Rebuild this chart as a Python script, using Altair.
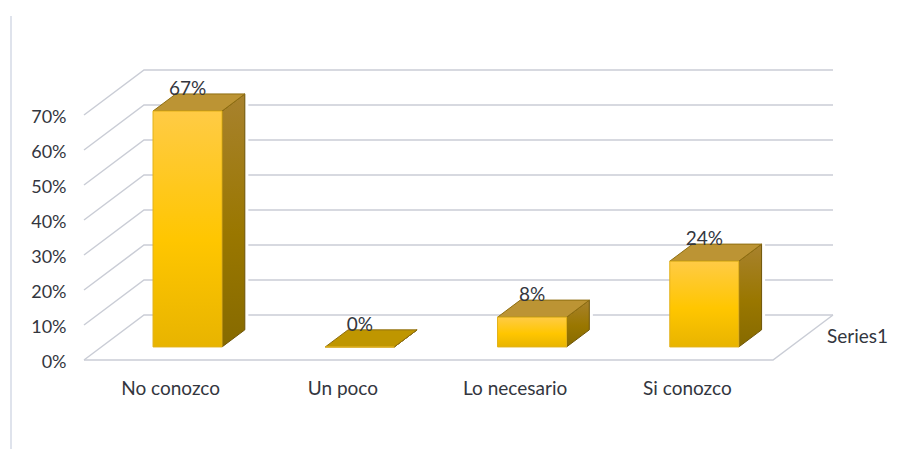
import json
import altair as alt
import pandas as pd

categories = ["No conozco", "Un poco", "Lo necesario", "Si conozco"]
bar_heights = [67.4, 0.0, 8.5, 24.5]
bar_labels = ["67%", "0%", "8%", "24%"]
ticks = [0, 10, 20, 30, 40, 50, 60, 70]
series_name = "Series1"

# oblique projection of the 3D box, in data units
DX = 0.3483      # category units for the full floor depth
DY = 12.857      # percent units for the full floor depth
D0, D1 = 0.29, 0.67
BW = 0.4006
X_DOM = [-0.4412, 4.7837]
Y_DOM = [-25.429, 100.571]
W, H = 900, 441
FONT = "Lato"
TXT = "#33363e"
GRID = "#cacdd6"

x_names = json.dumps(categories)
x_axis = alt.Axis(
    values=[i + 0.5 for i in range(len(categories))],
    labelExpr=f"{x_names}[floor(datum.value)]",
    domain=False, ticks=False, grid=False, labelFont=FONT, labelFontSize=19,
    labelColor=TXT, labelPadding=0, offset=-61, labelBaseline="middle",
    labelFlush=False, labelOverlap=False, title=None,
)
y_axis = alt.Axis(
    values=ticks, labelExpr="datum.value + '%'",
    domain=False, ticks=False, grid=False, labelFont=FONT, labelFontSize=18,
    labelColor=TXT, labelPadding=0, offset=-58, labelOffset=2.5,
    labelFlush=False, labelOverlap=False, title=None,
)


def X(f):
    return alt.X(f, type="quantitative", scale=alt.Scale(domain=X_DOM, nice=False, zero=False), axis=x_axis)


def Y(f):
    return alt.Y(f, type="quantitative", scale=alt.Scale(domain=Y_DOM, nice=False, zero=False), axis=y_axis)


def grad(stops):
    return alt.Gradient(
        gradient="linear", x1=0, y1=0, x2=0, y2=1,
        stops=[alt.GradientStop(offset=o, color=c) for o, c in stops],
    )


# walls and floor
grid_rows = []
for t in ticks:
    for n, (x, y) in enumerate([(0, t), (DX, t + DY), (4 + DX, t + DY)]):
        grid_rows.append({"line": f"g{t}", "o": n, "x": x, "y": y})
for n, (x, y) in enumerate([(0, 0), (4, 0), (4 + DX, DY)]):
    grid_rows.append({"line": "floor", "o": n, "x": x, "y": y})
grid = pd.DataFrame(grid_rows)

front, side, top, halo, labels = [], [], [], [], []
for i, (c, v, lab) in enumerate(zip(categories, bar_heights, bar_labels)):
    cx = i + 0.5 + D0 * DX
    l, r = cx - BW / 2, cx + BW / 2
    y0f, y0b = D0 * DY, D1 * DY
    sx = (D1 - D0) * DX
    front.append({"c": c, "x": l, "x2": r, "y": y0f, "y2": y0f + v})
    side += [
        {"c": c, "x": r, "y": y0f, "y2": y0f + v},
        {"c": c, "x": r + sx, "y": y0b, "y2": y0b + v},
    ]
    topfill = "#bc9434" if v > 0 else "#bf9600"
    top += [
        {"c": c, "y": y0f + v, "x": l, "x2": r, "fill": topfill},
        {"c": c, "y": y0b + v, "x": l + sx, "x2": r + sx, "fill": topfill},
    ]
    halo.append({"c": c, "x": r + sx + 0.006, "y": y0b, "y2": y0b + v})
    labels.append({"c": c, "x": cx, "y": y0f + v, "t": lab})

front, side, top, halo, labels = map(pd.DataFrame, (front, side, top, halo, labels))

walls = alt.Chart(grid).mark_line(color=GRID, strokeWidth=1.5).encode(
    x=X("x"), y=Y("y"), detail="line:N", order="o:Q"
)

halos = alt.Chart(halo).mark_rule(color="white", strokeWidth=5).encode(
    x=X("x"), y=Y("y"), y2="y2:Q"
)

side_faces = alt.Chart(side).mark_area(
    color=grad([(0, "#a8822e"), (0.55, "#9a7700"), (1, "#866a00")]),
    stroke="#6e5406", strokeWidth=1, orient="vertical",
).encode(x=X("x"), y=Y("y"), y2="y2:Q", detail="c:N")

top_faces = alt.Chart(top).mark_area(
    orient="horizontal", stroke="#8f6e10", strokeWidth=1
).encode(
    y=Y("y"), x=X("x"), x2="x2:Q",
    color=alt.Color("fill:N", scale=None), detail="c:N",
)

front_faces = alt.Chart(front).mark_rect(
    color=grad([(0, "#ffcb45"), (0.55, "#ffc600"), (1, "#e8b400")]),
    stroke="#e3b21a", strokeWidth=1,
).encode(x=X("x"), x2="x2:Q", y=Y("y"), y2="y2:Q")

bar_text = alt.Chart(labels).mark_text(
    font=FONT, fontSize=19, color=TXT, dy=-22, baseline="middle", align="center"
).encode(x=X("x"), y=Y("y"), text="t:N")

series_text = alt.Chart(pd.DataFrame({"x": [4 + DX / 2], "y": [DY / 2], "t": [series_name]})).mark_text(
    font=FONT, fontSize=19, color=TXT, align="left", baseline="middle", dx=24
).encode(x=X("x"), y=Y("y"), text="t:N")

frame = alt.Chart(pd.DataFrame({"k": [0]})).mark_rule(color="#dfe3ec", strokeWidth=2).encode(
    x=alt.value(3), y=alt.value(8), y2=alt.value(H)
)

chart = alt.layer(
    walls, frame, halos, side_faces, top_faces, front_faces, bar_text, series_text
).properties(
    width=W, height=H, padding=0, autosize=alt.AutoSizeParams(type="none"),
    background="white",
).configure_view(stroke=None)

chart.save("out.html", embed_options={"renderer": "svg", "actions": False})
